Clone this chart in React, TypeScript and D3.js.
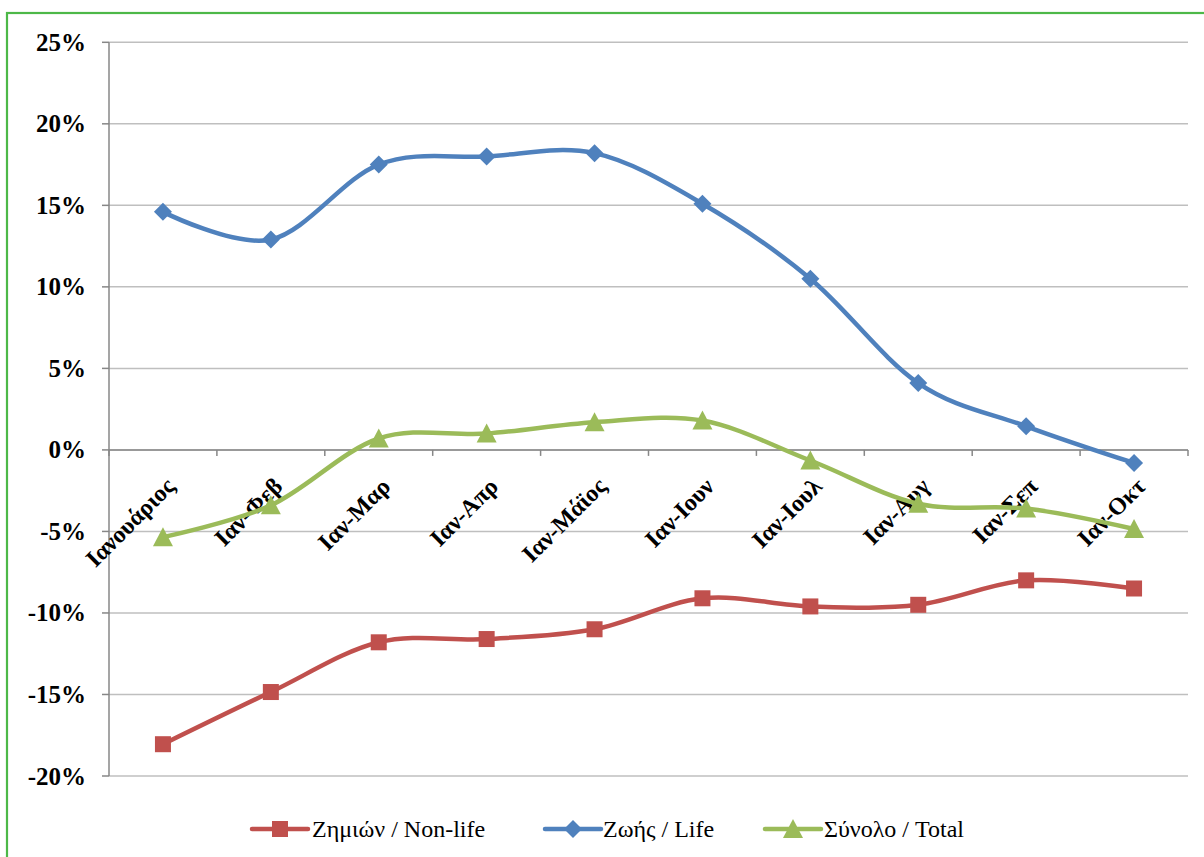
import React from "react";
import * as d3 from "d3";

const categories = ["Ιανουάριος", "Ιαν-Φεβ", "Ιαν-Μαρ", "Ιαν-Απρ", "Ιαν-Μάϊος", "Ιαν-Ιουν", "Ιαν-Ιουλ", "Ιαν-Αυγ", "Ιαν-Σεπ", "Ιαν-Οκτ"];
const nonLife = [-18.05, -14.85, -11.8, -11.6, -11.0, -9.1, -9.6, -9.5, -8.0, -8.5];
const life = [14.6, 12.9, 17.5, 18.0, 18.2, 15.1, 10.5, 4.1, 1.45, -0.8];
const total = [-5.35, -3.4, 0.7, 1.0, 1.7, 1.8, -0.65, -3.3, -3.6, -4.85];
const yTicks = [-20, -15, -10, -5, 0, 5, 10, 15, 20, 25];
const seriesNames = ["Ζημιών / Non-life", "Ζωής / Life", "Σύνολο / Total"];

const W = 1204;
const H = 857;
const FONT = "'Liberation Serif', 'Times New Roman', serif";

const RED = "#C0504D";
const BLUE = "#4F81BD";
const GREEN = "#9BBB59";

export default function App() {
  const x = d3.scaleBand<string>().domain(categories).range([109, 1188]);
  const y = d3.scaleLinear().domain([-20, 25]).range([776, 42.3]);
  const cx = (c: string) => (x(c) as number) + x.bandwidth() / 2;

  const line = d3
    .line<number>()
    .x((_, i) => cx(categories[i]))
    .y((d) => y(d))
    .curve(d3.curveCardinal.tension(0));

  const series = [
    { name: seriesNames[0], values: nonLife, color: RED, marker: "square" },
    { name: seriesNames[1], values: life, color: BLUE, marker: "diamond" },
    { name: seriesNames[2], values: total, color: GREEN, marker: "triangle" },
  ];

  const marker = (type: string, px: number, py: number, color: string, key: any) => {
    if (type === "square") {
      return <rect key={key} x={px - 8} y={py - 8} width={16} height={16} fill={color} />;
    }
    if (type === "diamond") {
      const r = 9;
      return (
        <path key={key} d={`M${px},${py - r}L${px + r},${py}L${px},${py + r}L${px - r},${py}Z`} fill={color} />
      );
    }
    const s = 10;
    return (
      <path key={key} d={`M${px},${py - s}L${px + s},${py + 9}L${px - s},${py + 9}Z`} fill={color} />
    );
  };

  const boundaries = categories.map((c) => x(c) as number).concat([1188]);
  const zeroY = y(0);

  const legendItems = [
    { lx: 252, tx: 312 },
    { lx: 545, tx: 603 },
    { lx: 765, tx: 824 },
  ];

  return (
    <svg
      width={W}
      height={H}
      style={{ position: "absolute", left: 0, top: 0, background: "#fff" }}
      fontFamily={FONT}
    >
      <rect x={0} y={0} width={W} height={H} fill="#fff" />
      <rect x={7} y={13} width={1300} height={1000} fill="none" stroke="#4DB848" strokeWidth={2.2} />

      {/* gridlines */}
      {yTicks.map((t) => (
        <line key={"g" + t} x1={109} x2={1188} y1={y(t)} y2={y(t)} stroke="#BFBFBF" strokeWidth={1.5} />
      ))}

      {/* y axis */}
      <line x1={109} x2={109} y1={y(25)} y2={y(-20)} stroke="#878787" strokeWidth={1.5} />
      {yTicks.map((t) => (
        <g key={"yt" + t}>
          <line x1={102} x2={109} y1={y(t)} y2={y(t)} stroke="#878787" strokeWidth={1.5} />
          <text
            x={86}
            y={y(t)}
            textAnchor="end"
            dominantBaseline="central"
            fontSize={25}
            fontWeight="bold"
            fill="#000"
          >
            {t + "%"}
          </text>
        </g>
      ))}

      {/* category axis along 0 */}
      <line x1={109} x2={1188} y1={zeroY} y2={zeroY} stroke="#878787" strokeWidth={1.5} />
      {boundaries.map((b, i) => (
        <line key={"xt" + i} x1={b} x2={b} y1={zeroY} y2={zeroY + 6} stroke="#878787" strokeWidth={1.5} />
      ))}
      {categories.map((c) => (
        <text
          key={"c" + c}
          transform={`translate(${cx(c) + 13},${zeroY + 38}) rotate(-45)`}
          textAnchor="end"
          fontSize={24}
          fontWeight="bold"
          fill="#000"
        >
          {c}
        </text>
      ))}

      {/* series */}
      {series.map((s) => (
        <g key={s.name}>
          <path d={line(s.values) as string} fill="none" stroke={s.color} strokeWidth={4.5} strokeLinejoin="round" />
          {s.values.map((v, i) => marker(s.marker, cx(categories[i]), y(v), s.color, i))}
        </g>
      ))}

      {/* legend */}
      {series.map((s, i) => (
        <g key={"l" + i}>
          <line
            x1={legendItems[i].lx}
            x2={legendItems[i].lx + 56}
            y1={829}
            y2={829}
            stroke={s.color}
            strokeWidth={4.5}
            strokeLinecap="round"
          />
          {marker(s.marker, legendItems[i].lx + 28, 829, s.color, "m")}
          <text x={legendItems[i].tx} y={829} dominantBaseline="central" fontSize={24} fill="#000">
            {s.name}
          </text>
        </g>
      ))}
    </svg>
  );
}
